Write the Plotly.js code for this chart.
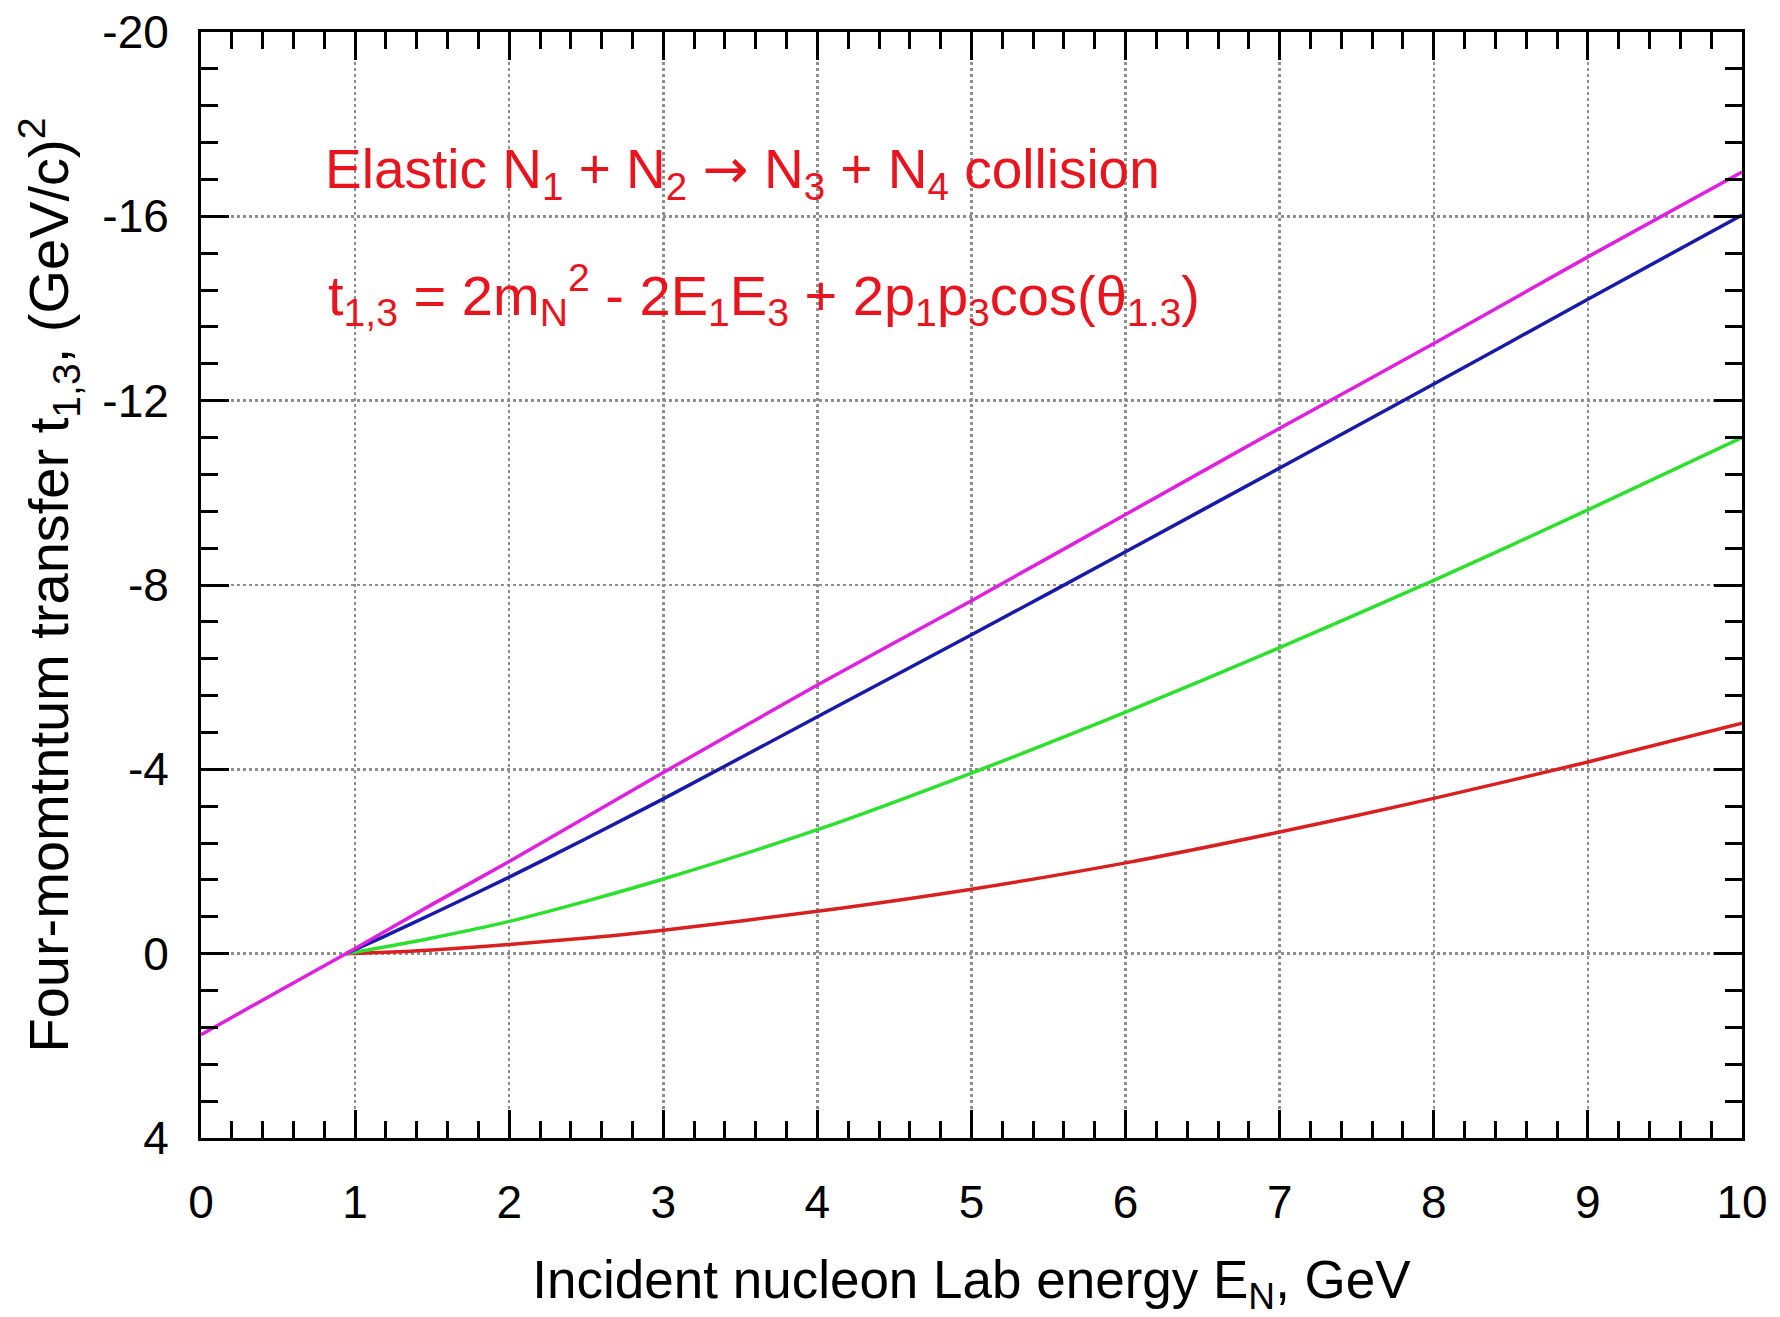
<!DOCTYPE html>
<html>
<head>
<meta charset="utf-8">
<script src="https://cdn.plot.ly/plotly-3.0.1.min.js"></script>
<style>html,body{margin:0;padding:0;background:#fff;}#chart{width:1780px;height:1317px;}</style>
</head>
<body>
<div id="chart"></div>
<script>
// Incident nucleon Lab energy E_N (GeV)
const xMagenta = [0, 0.5, 0.94, 1.5, 2, 3, 4, 5, 6, 7, 8, 9, 10];
const tMagenta = [1.76, 0.82, 0, -1.07, -2.00, -3.93, -5.83, -7.66, -9.53, -11.40, -13.24, -15.12, -16.96];

const xCurves = [0.94, 1.2, 1.5, 2, 2.5, 3, 4, 5, 6, 7, 8, 9, 10];
const tBlue  = [0, -0.39, -0.86, -1.66, -2.50, -3.36, -5.14, -6.92, -8.72, -10.54, -12.36, -14.20, -16.03];
const tGreen = [0, -0.15, -0.34, -0.70, -1.14, -1.62, -2.69, -3.92, -5.24, -6.64, -8.10, -9.63, -11.20];
const tRed   = [0, -0.03, -0.08, -0.20, -0.34, -0.51, -0.92, -1.40, -1.97, -2.64, -3.37, -4.16, -5.00];

const xTickVals = [0, 1, 2, 3, 4, 5, 6, 7, 8, 9, 10];
const xTickText = ["0", "1", "2", "3", "4", "5", "6", "7", "8", "9", "10"];
const yTickVals = [-20, -16, -12, -8, -4, 0, 4];
const yTickText = ["-20", "-16", "-12", "-8", "-4", "0", "4"];

const FONT = "Liberation Sans, Arial, sans-serif";
const RED = "#e8141e";

const lineStyle = (c) => ({color: c, width: 3.5, shape: "spline", smoothing: 0.8});

const traces = [
  {x: xCurves, y: tRed, mode: "lines", line: lineStyle("#d92020"), name: "red"},
  {x: xCurves, y: tGreen, mode: "lines", line: lineStyle("#2ee02e"), name: "green"},
  {x: xCurves, y: tBlue, mode: "lines", line: lineStyle("#1a1aa8"), name: "blue"},
  {x: xMagenta, y: tMagenta, mode: "lines", line: lineStyle("#e020e0"), name: "magenta"}
];

const axisCommon = {
  showline: true, linecolor: "#000", linewidth: 3, mirror: "ticks",
  ticks: "inside", ticklen: 28, tickwidth: 3, tickcolor: "#000",
  showgrid: true, gridcolor: "#8e8e8e", gridwidth: 2.5, griddash: "dot",
  zeroline: false,
  tickfont: {family: FONT, size: 46, color: "#000"},
  tickmode: "array"
};

const layout = {
  width: 1780, height: 1317,
  margin: {l: 201, r: 38, t: 32, b: 179},
  paper_bgcolor: "#fff", plot_bgcolor: "#fff",
  showlegend: false,
  font: {family: FONT},
  xaxis: Object.assign({}, axisCommon, {
    range: [0, 10], tickvals: xTickVals, ticktext: xTickText,
    ticklabelstandoff: 22,
    minor: {dtick: 0.2, tick0: 0, ticks: "inside", ticklen: 17, tickwidth: 3, tickcolor: "#000", showgrid: false},
    title: {text: "Incident nucleon Lab energy E<sub>N</sub>, GeV", font: {family: FONT, size: 53, color: "#000"}, standoff: 44}
  }),
  yaxis: Object.assign({}, axisCommon, {
    range: [4, -20], tickvals: yTickVals, ticktext: yTickText,
    ticklabelstandoff: 20,
    minor: {dtick: 0.8, tick0: 0, ticks: "inside", ticklen: 17, tickwidth: 3, tickcolor: "#000", showgrid: false},
    title: {text: "Four-momtntum transfer t<sub>1,3</sub>, (GeV/c)<sup>2</sup>", font: {family: FONT, size: 56, color: "#000"}, standoff: 16}
  }),
  annotations: [
    {x: 0.79, y: -16.96, xref: "x", yref: "y", xanchor: "left", yanchor: "middle", showarrow: false,
     text: "Elastic N<sub>1</sub> + N<sub>2</sub> <span style=\"font-family:'DejaVu Sans'\">\u2192</span> N<sub>3</sub> + N<sub>4</sub> collision",
     font: {family: FONT, size: 55, color: RED}},
    {x: 0.81, y: -14.29, xref: "x", yref: "y", xanchor: "left", yanchor: "middle", showarrow: false,
     text: "t<sub>1,3</sub> = 2m<sub>N</sub><sup>2</sup> - 2E<sub>1</sub>E<sub>3</sub> + 2p<sub>1</sub>p<sub>3</sub>cos(\u03b8<sub>1.3</sub>)",
     font: {family: FONT, size: 56, color: RED}}
  ]
};

Plotly.newPlot("chart", traces, layout, {staticPlot: true, displayModeBar: false});
</script>
</body>
</html>
